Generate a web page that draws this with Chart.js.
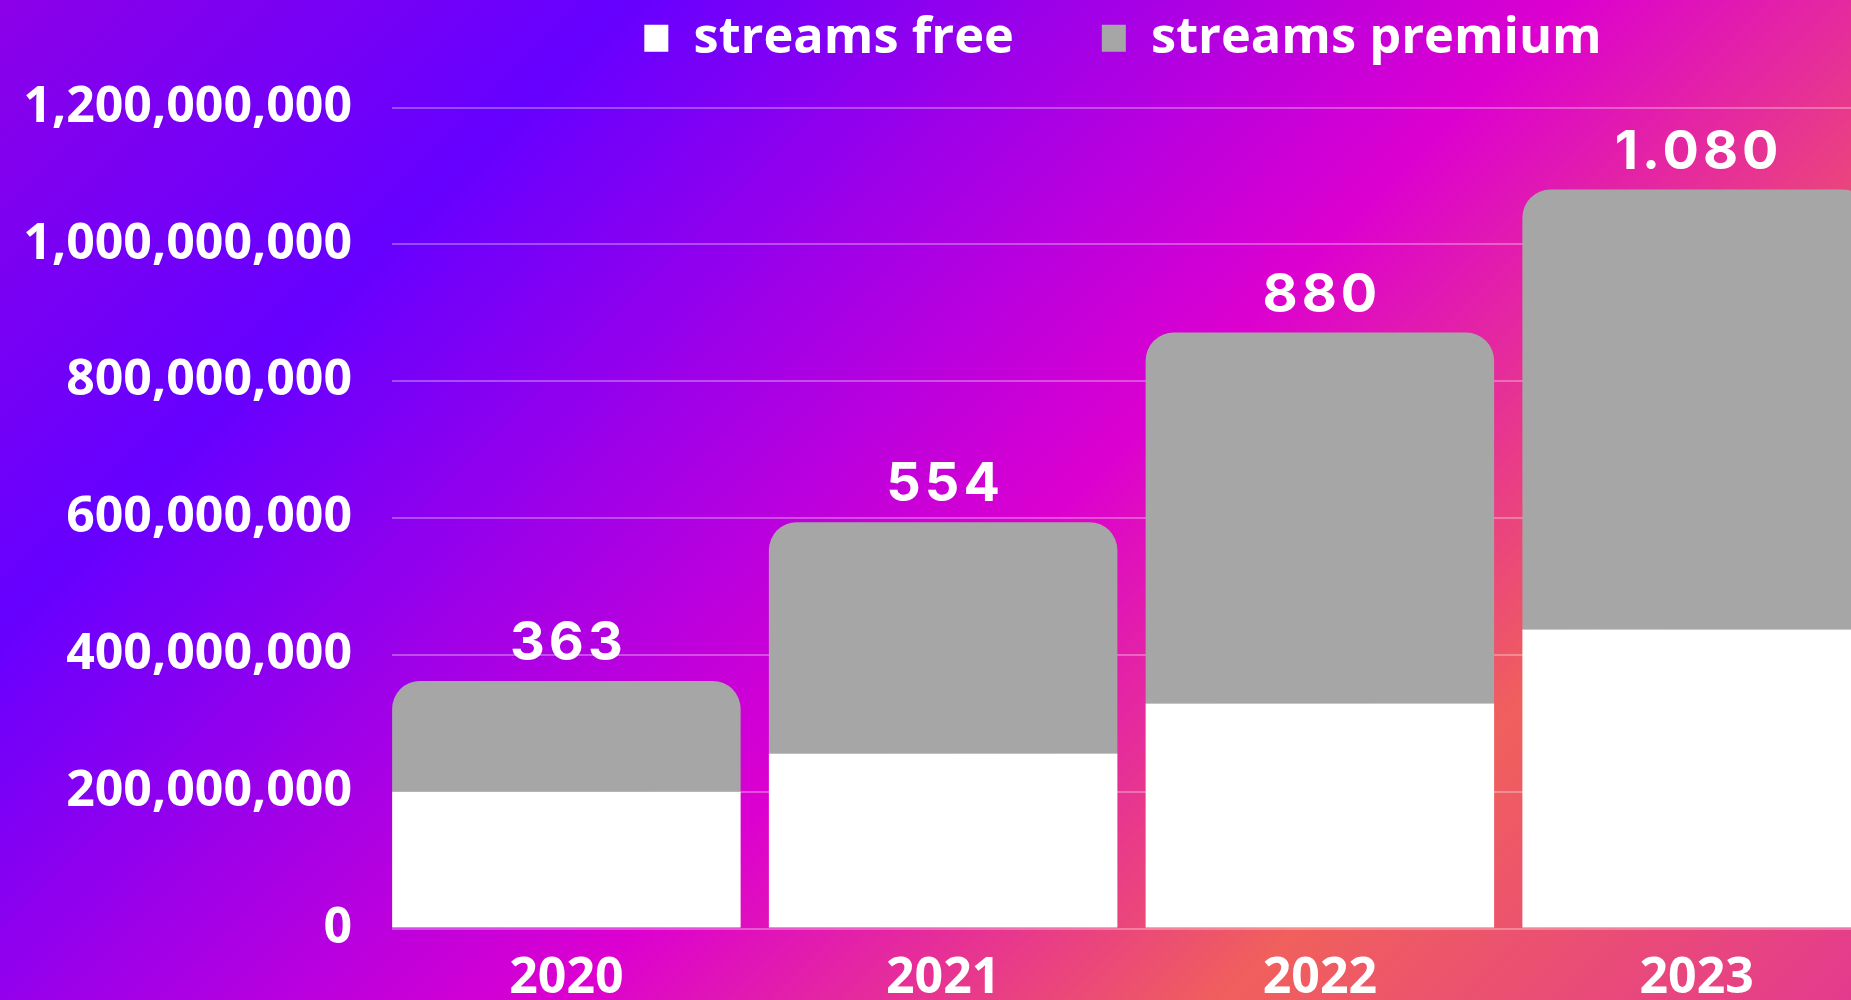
<!DOCTYPE html>
<html>
<head>
<meta charset="utf-8">
<script src="https://cdn.jsdelivr.net/npm/chart.js@4.4.1/dist/chart.umd.min.js"></script>
<style>
	html, body { margin: 0; padding: 0; width: 1851px; height: 1000px; overflow: hidden; }
	body { background: linear-gradient(135deg, #8c00e8 0%, #6600ff 22%, #dc00d0 55%, #f0605c 78%, #e43a8e 100%); }
	#wrap { position: absolute; left: 0; top: 0; width: 2246px; height: 1000px; }
</style>
</head>
<body>
<div id="wrap"><canvas id="streams-chart"></canvas></div>
<script>
const years          = ['2020', '2021', '2022', '2023'];
const streamsFree    = [200000000, 256000000, 329000000, 437000000];
const streamsPremium = [162000000, 338000000, 542000000, 643000000];
const totalLabels    = ['363', '554', '880', '1.080'];
const yMax  = 1200000000;
const yStep = 200000000;

const tickFont = { family: 'Open Sans', weight: 'bold', size: 50 };

// legend sits higher than the plot, so give it some extra room underneath
const legendGap = {
	id: 'legendGap',
	beforeInit(chart) {
		const fit = chart.legend.fit;
		chart.legend.fit = function () {
			fit.call(this);
			this.height += 34;
		};
	}
};

// grid lines start at the first bar, not at the category edge
const gridTrim = {
	id: 'gridTrim',
	beforeDatasetsDraw(chart) {
		const area = chart.chartArea;
		const bar = chart.getDatasetMeta(0).data[0];
		const x0 = bar.x - bar.width / 2;
		chart.ctx.clearRect(area.left - 2, area.top - 3, x0 - area.left + 2, area.bottom - area.top + 6);
	}
};

// totals above each stack
const totals = {
	id: 'totals',
	afterDatasetsDraw(chart) {
		const ctx = chart.ctx;
		const meta = chart.getDatasetMeta(1);
		ctx.save();
		ctx.fillStyle = '#ffffff';
		ctx.font = '700 54px Inter';
		ctx.letterSpacing = '4px';
		ctx.textAlign = 'center';
		ctx.textBaseline = 'alphabetic';
		meta.data.forEach((bar, i) => {
			ctx.fillText(totalLabels[i], bar.x + 2, bar.y - 21);
		});
		ctx.restore();
	}
};

const ctx = document.getElementById('streams-chart').getContext('2d');

new Chart(ctx, {
	type: 'bar',
	data: {
		labels: years,
		datasets: [{
			label: 'streams free',
			data: streamsFree,
			backgroundColor: '#ffffff',
			borderRadius: 0
		}, {
			label: 'streams premium',
			data: streamsPremium,
			backgroundColor: '#a6a6a6',
			borderRadius: { topLeft: 28, topRight: 28, bottomLeft: 0, bottomRight: 0 },
			borderSkipped: false
		}]
	},
	options: {
		responsive: true,
		maintainAspectRatio: false,
		animation: false,
		devicePixelRatio: 1,
		layout: { padding: { top: -75, left: 0, right: 0, bottom: 0 } },
		datasets: {
			bar: { categoryPercentage: 1, barPercentage: 0.925 }
		},
		plugins: {
			tooltip: { enabled: false },
			legend: {
				position: 'top',
				align: 'center',
				labels: {
					color: '#ffffff',
					font: { family: 'Open Sans', weight: 'bold', size: 50.5 },
					boxWidth: 24,
					boxHeight: 27,
					padding: 88
				}
			}
		},
		scales: {
			x: {
				stacked: true,
				grid: { display: false },
				border: { display: false },
				ticks: { color: '#ffffff', font: tickFont, padding: 12 },
				afterFit(scale) { scale.height = 71.4; }
			},
			y: {
				stacked: true,
				min: 0,
				max: yMax,
				grid: { color: 'rgba(255,255,255,0.3)', lineWidth: 2, drawTicks: false },
				border: { display: false },
				ticks: {
					stepSize: yStep,
					color: '#ffffff',
					font: tickFont,
					padding: 26,
					callback: v => v.toLocaleString('en-US')
				},
				afterFit(scale) { scale.width = 378; }
			},
			yRight: {
				position: 'right',
				display: true,
				grid: { display: false },
				border: { display: false },
				ticks: { display: false },
				afterFit(scale) { scale.width = 361; }
			}
		}
	},
	plugins: [legendGap, gridTrim, totals]
});
</script>
</body>
</html>
